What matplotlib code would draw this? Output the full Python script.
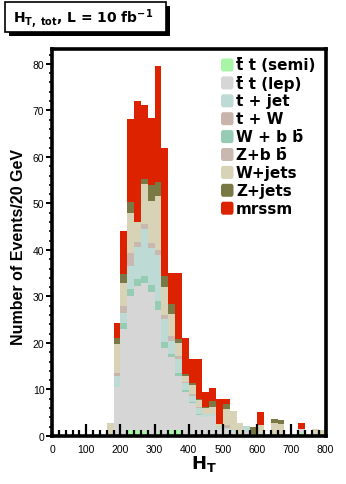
import matplotlib
matplotlib.use("Agg")
import matplotlib.pyplot as plt
import numpy as np
from matplotlib.patches import Rectangle, FancyBboxPatch
from matplotlib.ticker import MultipleLocator

plt.rcParams['font.family'] = ['Liberation Sans', 'DejaVu Sans']
plt.rcParams['mathtext.fontset'] = 'dejavusans'

# bin lower edges (GeV), 20 GeV bins
bin_edges = [160, 180, 200, 220, 240, 260, 280, 300, 320, 340, 360, 380, 400, 420,
             440, 460, 480, 500, 520, 540, 560, 580, 600, 620, 640, 660, 680, 700,
             720, 740, 760, 780]

tt_semi = [0, 0, 0, 1.2, 1.2, 1.0, 0, 0.6, 0, 1.2, 1.2, 0, 0, 0,
           0, 0, 0, 0, 0, 0, 0, 0.5, 0, 0, 0, 0, 0, 0,
           0.6, 0, 0, 0]
tt_lep = [0, 10.5, 23.0, 28.8, 31.0, 32.0, 31.0, 26.4, 19.0, 15.7, 11.8, 9.5, 7.0, 4.5,
          4.0, 4.4, 1.5, 1.5, 0.8, 0.5, 0.8, 0, 0.6, 0, 0, 0, 0, 0,
          1.0, 0, 0, 0]
w_bb = [0, 0, 1.2, 1.6, 1.5, 1.3, 1.5, 2.0, 1.2, 0.7, 0.6, 0.4, 0.4, 0.3,
        0, 0, 0, 0, 0, 0, 0, 0, 0, 0, 0, 0, 0, 0,
        0, 0, 0, 0]
t_jet = [0, 2.5, 2.3, 5.0, 7.0, 10.3, 8.0, 10.0, 5.0, 2.9, 3.0, 1.4, 1.3, 1.2,
         0.8, 0.3, 0.4, 0.3, 0.4, 0, 1.3, 0, 0, 0, 0, 0, 0, 0,
         0, 0, 0, 0]
t_w = [0, 0.5, 0, 0, 0, 0, 0, 0, 0, 0, 0, 0, 0, 0,
       0, 0, 0, 0.6, 0, 0, 0, 0, 0, 0, 0, 0, 0, 0,
       0, 0, 0, 0]
z_bb = [0, 0, 1.5, 2.8, 1.0, 1.0, 1.0, 1.0, 0.8, 1.1, 0.5, 0.3, 0.3, 0.2,
        0, 0, 0, 0, 0, 0, 0, 0, 0, 0, 0, 0, 0, 0,
        0, 0, 0, 0]
w_jets = [2.8, 6.3, 4.8, 8.6, 4.3, 8.6, 9.0, 11.6, 6.0, 4.6, 2.8, 1.3, 2.0, 1.5,
          1.2, 1.6, 0.7, 3.4, 4.2, 2.4, 0, 0, 1.7, 0, 2.7, 2.6, 0, 0,
          0, 0, 1.5, 1.2]
z_jets = [0, 1.3, 2.0, 2.2, 0, 1.1, 3.5, 3.0, 2.5, 2.2, 1.0, 0.4, 0.5, 0.3,
          0.3, 1.3, 0, 1.1, 0, 0, 0, 1.4, 0, 0, 1.0, 0.9, 0, 0,
          0, 0, 0, 0]
mrssm = [0, 3.2, 9.2, 18.0, 26.0, 15.9, 14.4, 25.0, 27.4, 6.6, 14.1, 7.7, 5.1, 8.6,
         3.1, 2.8, 5.4, 1.1, 0, 0, 0, 0, 2.8, 0, 0, 0, 0, 0,
         1.2, 0, 0, 0]

labels = ["t\u0304 t (semi)", "t\u0304 t (lep)", "t + jet", "t + W",
          "W + b b\u0304", "Z+b b\u0304", "W+jets", "Z+jets", "mrssm"]
colors = ["#a8f5a8", "#d6d6d6", "#bedad4", "#c8b4aa", "#96ccb4", "#c8b8b0",
          "#d8d2b6", "#7a7844", "#dd2200"]

# stacking order bottom -> top
stack = [(tt_semi, 0), (tt_lep, 1), (w_bb, 4), (t_jet, 2), (t_w, 3), (z_bb, 5),
         (w_jets, 6), (z_jets, 7), (mrssm, 8)]

W, H = 346, 485
fig = plt.figure(figsize=(W / 100, H / 100), dpi=100)
x0, x1, ytop, ybot = 52, 325.5, 50, 437
ax = fig.add_axes([x0 / W, (H - ybot) / H, (x1 - x0) / W, (ybot - ytop) / H])

edges = np.array(bin_edges, dtype=float)
bottom = np.zeros(len(edges))
for vals, ci in stack:
    v = np.array(vals, dtype=float)
    ax.bar(edges, v, width=20, bottom=bottom, align='edge', color=colors[ci],
           linewidth=0, zorder=1)
    bottom += v

ax.set_xlim(0, 800)
ax.set_ylim(0, 83.2)
ax.xaxis.set_major_locator(MultipleLocator(100))
ax.xaxis.set_minor_locator(MultipleLocator(20))
ax.yaxis.set_major_locator(MultipleLocator(10))
ax.yaxis.set_minor_locator(MultipleLocator(2))
ax.tick_params(axis='x', which='major', direction='in', length=9, width=1.6,
               labelsize=7.5, pad=6, top=False)
ax.tick_params(axis='x', which='minor', direction='in', length=4.5, width=1.6, top=False)
ax.tick_params(axis='y', which='major', direction='out', length=4, width=1.4,
               labelsize=7.5, pad=1.5, right=False)
ax.tick_params(axis='y', which='minor', direction='out', length=2.5, width=1.2, right=False)
for side in ['left', 'bottom', 'top', 'right']:
    ax.spines[side].set_linewidth(2.6)

ax.set_ylabel("Number of Events/20 GeV", fontsize=11.5, fontweight='bold')
ax.yaxis.set_label_coords(-0.095, 0.49)
ax.set_xlabel(r"$\mathbf{H_T}$", fontsize=13)
ax.xaxis.set_label_coords(0.555, -0.045)

# legend drawn in figure pixel coordinates
def fx(px):
    return px / W

def fy(py):
    return (H - py) / H

y_first, dy = 66, 17.9
for i, (lab, col) in enumerate(zip(labels, colors)):
    yc = y_first + i * dy
    fig.patches.append(FancyBboxPatch((fx(221), fy(yc + 6.5)), fx(12.5), 13 / H,
                                      boxstyle="round,pad=0,rounding_size=0.006",
                                      transform=fig.transFigure, facecolor=col,
                                      edgecolor='none'))
    fig.text(fx(236), fy(yc), lab, fontsize=11, fontweight='bold', va='center',
             ha='left', family='DejaVu Sans')

# title box with shadow
fig.patches.append(Rectangle((fx(9), fy(37)), fx(161), 30 / H, transform=fig.transFigure,
                             facecolor='black', edgecolor='none'))
fig.patches.append(Rectangle((fx(5), fy(33)), fx(161), 30 / H, transform=fig.transFigure,
                             facecolor='white', edgecolor='black', linewidth=1.2))
fig.text(fx(13), fy(19), r"$\mathbf{H}_{\mathbf{T,\ tot}}$, L = 10 fb$^{\mathbf{-1}}$",
         fontsize=10, fontweight='bold', va='center', ha='left', family='DejaVu Sans')

fig.savefig("out.png", dpi=100)
